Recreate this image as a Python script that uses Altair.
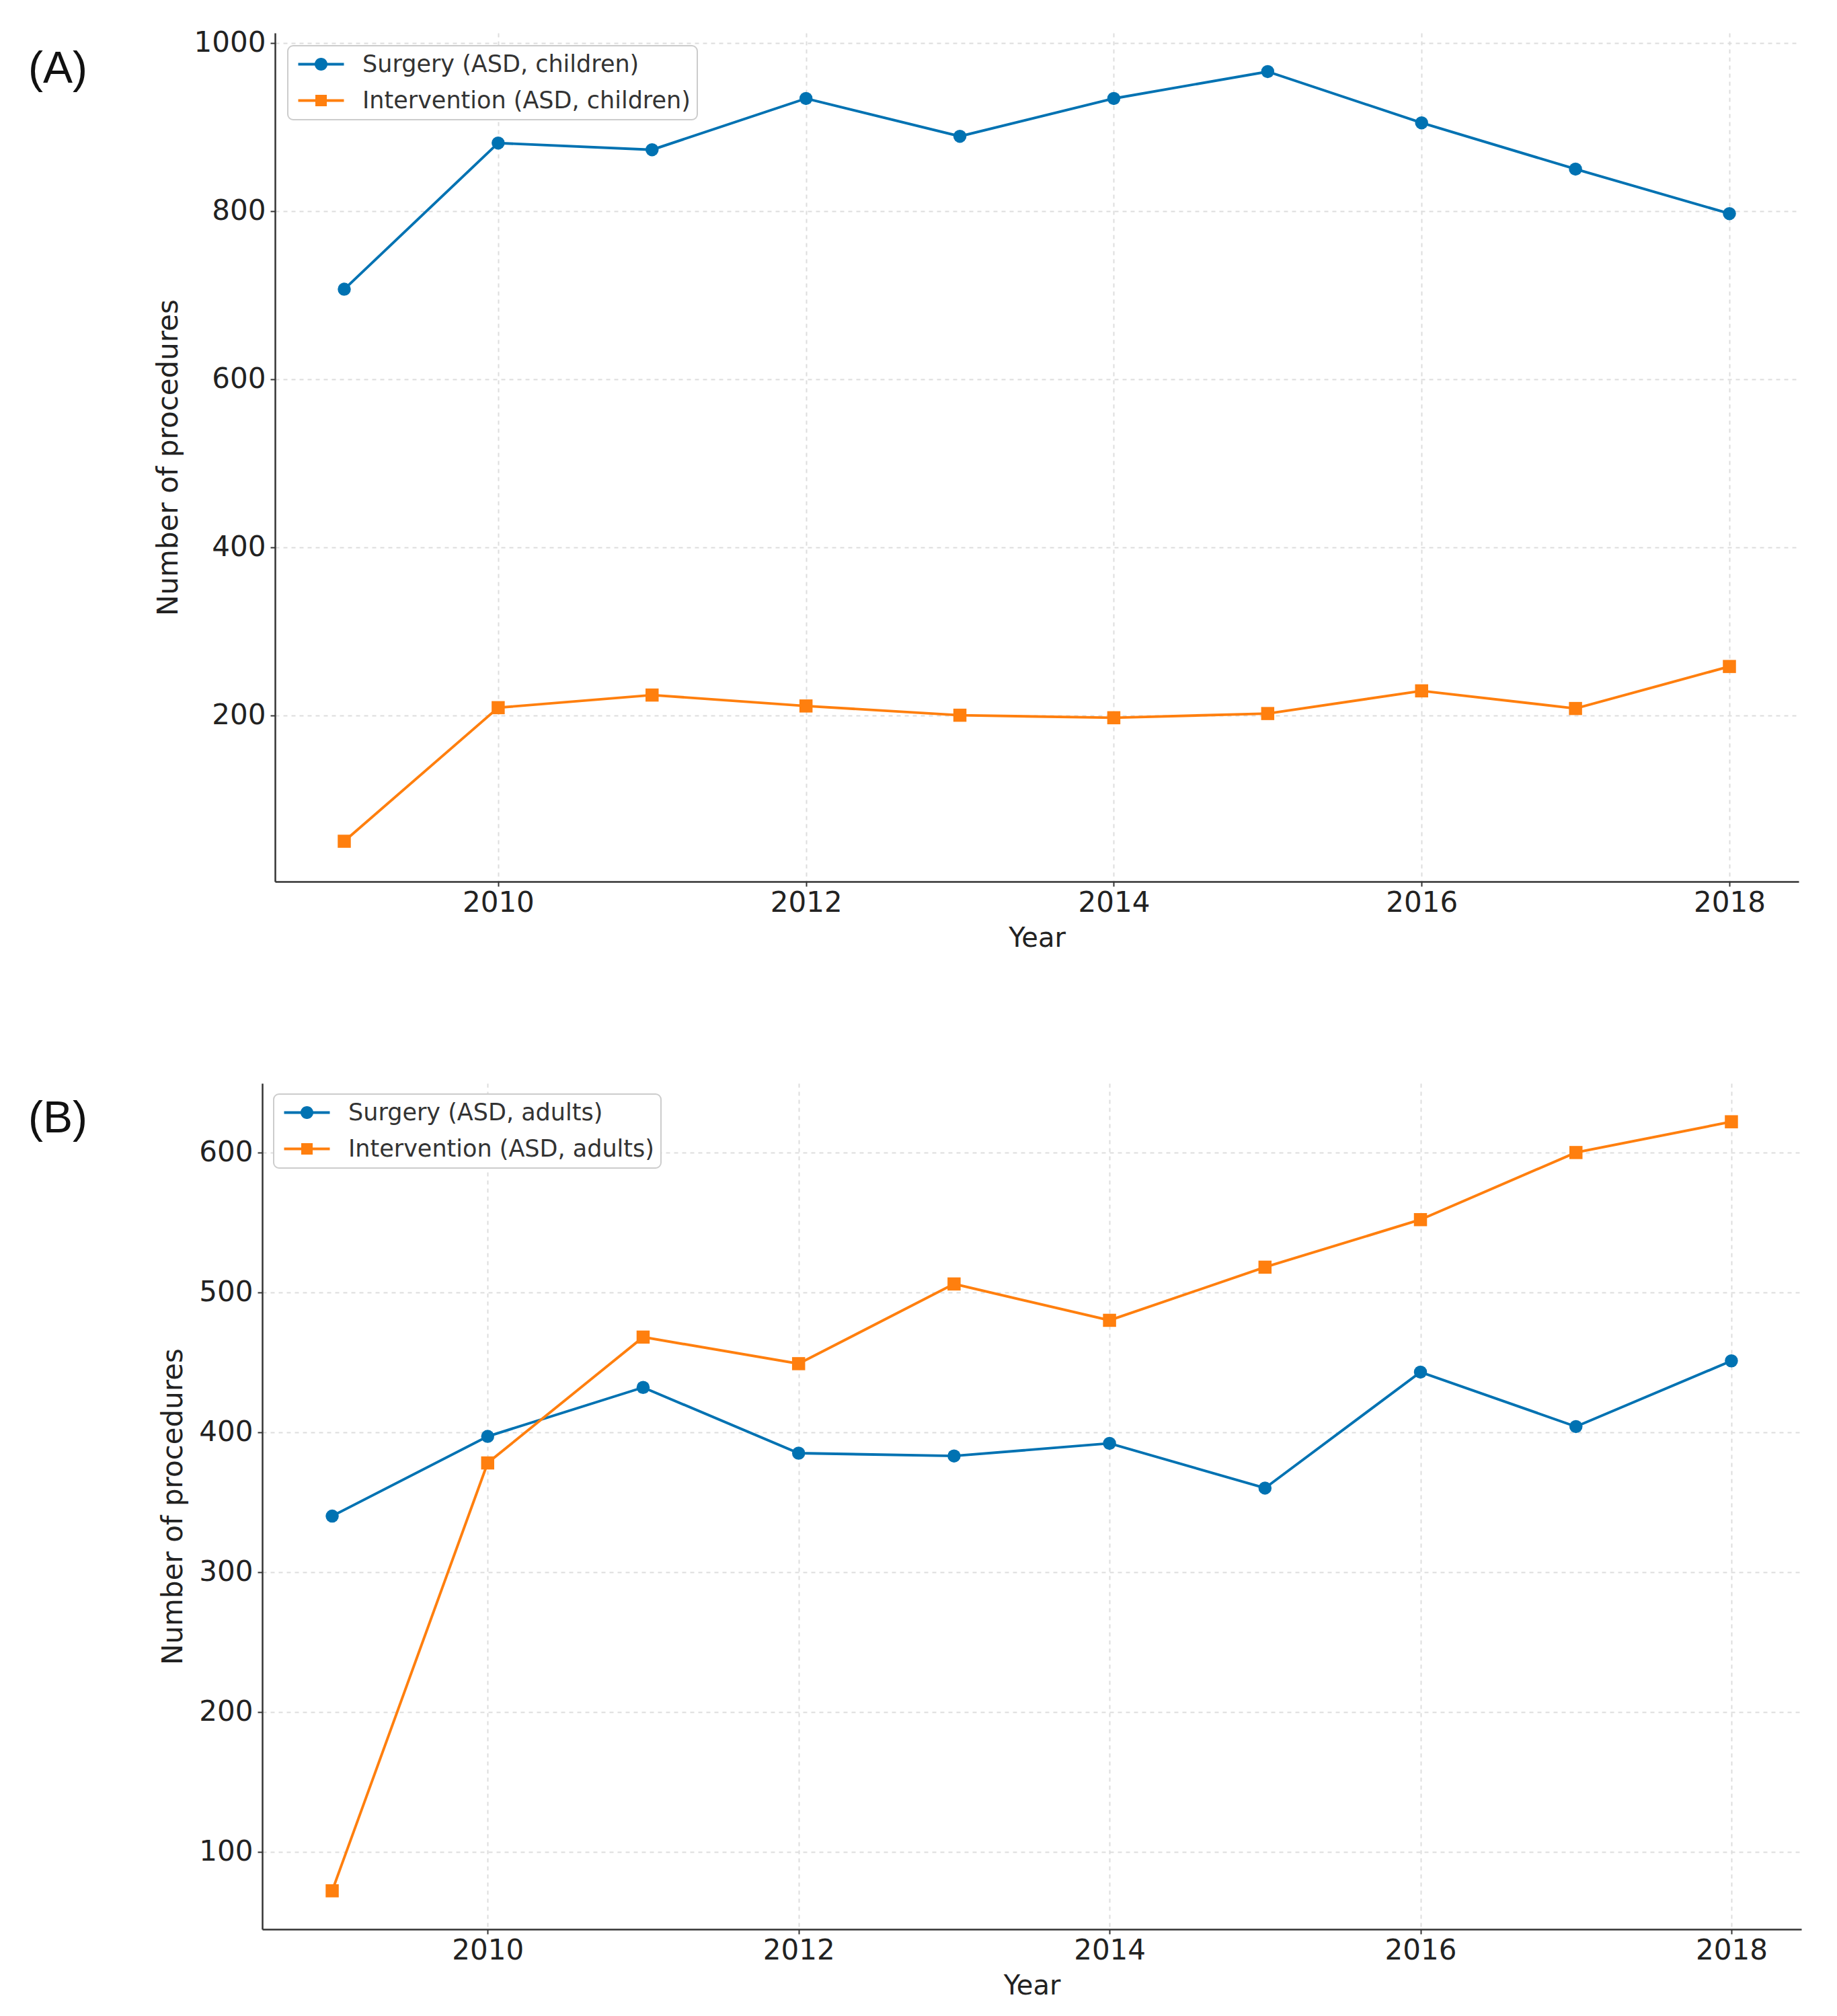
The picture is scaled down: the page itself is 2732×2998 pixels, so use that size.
import altair as alt
import pandas as pd

years = list(range(2009, 2019))
surgery_children = [707, 881, 873, 934, 889, 934, 966, 905, 850, 797]
intervention_children = [50, 209, 224, 211, 200, 197, 202, 229, 208, 258]
surgery_adults = [340, 397, 432, 385, 383, 392, 360, 443, 404, 451]
intervention_adults = [72, 378, 468, 449, 506, 480, 518, 552, 600, 622]

names_a = ["Surgery (ASD, children)", "Intervention (ASD, children)"]
names_b = ["Surgery (ASD, adults)", "Intervention (ASD, adults)"]
x_ticks = [2010, 2012, 2014, 2016, 2018]
y_ticks_a = [200, 400, 600, 800, 1000]
y_ticks_b = [100, 200, 300, 400, 500, 600]

COLORS = ["#0072B2", "#FF7F0E"]
SHAPES = ["circle", "square"]
LEG_SHAPES = [
    "M-0.706,-0.118L3.294,-0.118L3.294,0.118L-0.706,0.118Z "
    "M1.853,0A0.559,0.559,0,1,1,0.735,0A0.559,0.559,0,1,1,1.853,0Z",
    "M-0.706,-0.118L3.294,-0.118L3.294,0.118L-0.706,0.118Z "
    "M0.794,-0.5L1.794,-0.5L1.794,0.5L0.794,0.5Z",
]
FONT = "DejaVu Sans"


def make_df(names, s1, s2):
    rows = []
    for y, v in zip(years, s1):
        rows.append({"Year": y, "value": v, "series": names[0]})
    for y, v in zip(years, s2):
        rows.append({"Year": y, "value": v, "series": names[1]})
    return pd.DataFrame(rows)


def legend(leg_x, leg_y):
    return alt.Legend(
        title=None, orient="none", legendX=leg_x, legendY=leg_y,
        fillColor="white", strokeColor="#cccccc",
        cornerRadius=8, padding=10,
        symbolSize=1156, symbolStrokeWidth=0, symbolOpacity=1,
        labelFont=FONT, labelFontSize=35, labelColor="#333333",
        labelOffset=66, rowPadding=18, labelLimit=1000,
    )


def panel(df, names, ydom, yticks, width, height, shift, label, label_x, label_y, leg_x, leg_y):
    xscale = alt.Scale(domain=[2008.55, 2018.45], nice=False, zero=False)
    if shift:
        xscale = alt.Scale(domain=[2008.55, 2018.45], nice=False, zero=False,
                           range=[-shift, width])
    xenc = alt.X(
        "Year:Q",
        scale=xscale,
        axis=alt.Axis(
            values=x_ticks, format="d", title="Year",
            grid=True, gridDash=[6, 6], gridColor="#dddddd", gridWidth=2,
            domainColor="#333333", domainWidth=2.5,
            tickColor="#333333", tickSize=7, tickWidth=2,
            labelFont=FONT, labelFontSize=42, labelColor="#222222", labelPadding=4,
            titleFont=FONT, titleFontSize=40, titleFontWeight="normal",
            titleColor="#222222", titlePadding=12,
        ),
    )
    yenc = alt.Y(
        "value:Q",
        scale=alt.Scale(domain=ydom, nice=False, zero=False),
        axis=alt.Axis(
            values=yticks, format="d", title="Number of procedures",
            grid=True, gridDash=[6, 6], gridColor="#dddddd", gridWidth=2,
            domainColor="#333333", domainWidth=2.5,
            tickColor="#333333", tickSize=7, tickWidth=2,
            labelFont=FONT, labelFontSize=42, labelColor="#222222", labelPadding=7,
            titleFont=FONT, titleFontSize=42, titleFontWeight="normal",
            titleColor="#222222", titlePadding=16, offset=shift,
        ),
    )
    cscale = alt.Scale(domain=names, range=COLORS)
    base = alt.Chart(df)
    lines = base.mark_line(strokeWidth=3.9).encode(
        x=xenc, y=yenc,
        color=alt.Color("series:N", scale=cscale, legend=None),
        detail="series:N",
    )
    pts = base.mark_point(filled=True, size=380, opacity=1).encode(
        x=xenc, y=yenc,
        color=alt.Color("series:N", scale=cscale, legend=None),
        shape=alt.Shape("series:N", scale=alt.Scale(domain=names, range=SHAPES), legend=None),
    )
    leg = base.transform_filter("false").mark_point(filled=True, opacity=1).encode(
        x=xenc, y=yenc,
        color=alt.Color("series:N", scale=cscale, legend=legend(leg_x, leg_y)),
        shape=alt.Shape(
            "series:N", scale=alt.Scale(domain=names, range=LEG_SHAPES),
            legend=legend(leg_x, leg_y),
        ),
    )
    lab = alt.Chart(pd.DataFrame({"label": [label]})).mark_text(
        font="Liberation Sans", fontSize=66, align="left", baseline="alphabetic",
        color="#111111",
    ).encode(x=alt.value(label_x), y=alt.value(label_y), text="label:N")
    return (
        alt.layer(lines, pts, leg, lab)
        .resolve_scale(color="independent", shape="independent")
        .properties(width=width, height=height)
    )


df_a = make_df(names_a, surgery_children, intervention_children)
df_b = make_df(names_b, surgery_adults, intervention_adults)

pa = panel(df_a, names_a, [2, 1012], y_ticks_a, 2266, 1262, 0, "(A)", -367, 74, 19, 19)
pb = panel(df_b, names_b, [44.5, 649.5], y_ticks_b, 2270, 1258, 19, "(B)", -367, 73, -2, 16)

chart = (
    alt.vconcat(pa, pb, spacing=196)
    .properties(padding={"left": 34, "top": 34, "right": 20, "bottom": 20},
                background="white")
    .configure_view(stroke="transparent", strokeWidth=0)
    .configure_legend(strokeWidth=2)
)

chart.save("out.html", embed_options={"renderer": "svg", "actions": False})
